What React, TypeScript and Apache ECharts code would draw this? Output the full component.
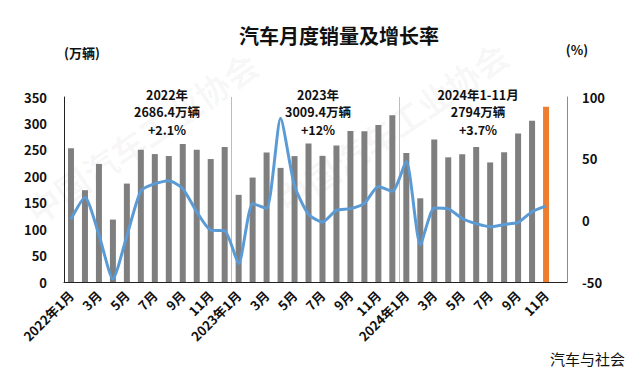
import React, { useEffect, useRef } from "react";
import * as echarts from "echarts";

const categories: string[] = [
  "2022年1月", "2月", "3月", "4月", "5月", "6月", "7月", "8月", "9月", "10月", "11月", "12月",
  "2023年1月", "2月", "3月", "4月", "5月", "6月", "7月", "8月", "9月", "10月", "11月", "12月",
  "2024年1月", "2月", "3月", "4月", "5月", "6月", "7月", "8月", "9月", "10月", "11月", "",
];

const sales: (number | null)[] = [
  253.1, 173.7, 223.4, 118.1, 186.2, 250.2, 242.0, 238.3, 261.0, 250.2, 232.6, 255.6,
  164.9, 197.6, 245.1, 215.9, 238.2, 262.2, 238.7, 258.2, 285.8, 285.3, 297.0, 315.6,
  243.9, 158.4, 269.4, 235.9, 241.7, 255.2, 226.2, 245.3, 280.9, 305.3, 331.7, null,
];

const growth: (number | null)[] = [
  0.9, 18.7, -11.7, -47.6, -12.6, 23.8, 29.7, 32.1, 25.7, 6.9, -7.9, -8.4,
  -35.0, 13.5, 9.7, 82.7, 27.9, 4.8, -1.4, 8.2, 9.5, 13.8, 27.4, 23.5,
  47.9, -19.9, 9.9, 9.3, 1.5, -2.7, -5.2, -3.4, -1.7, 7.0, 11.7, null,
];

const highlightIndex = 34;
const yearBoundaries = [12, 24];

const annotationX = [167, 318, 478];
const annotationLines: string[][] = [
  ["2022年", "2686.4万辆", "+2.1%"],
  ["2023年", "3009.4万辆", "+12%"],
  ["2024年1-11月", "2794万辆", "+3.7%"],
];

const FONT = '"Noto Sans CJK SC", "Noto Sans", sans-serif';

export default function App() {
  const ref = useRef<HTMLDivElement>(null);

  useEffect(() => {
    if (!ref.current) return;
    const chart = echarts.init(ref.current, undefined, { renderer: "svg" });

    const annotationTexts: any[] = [];
    annotationLines.forEach((lines, k) => {
      lines.forEach((t, j) => {
        annotationTexts.push({
          type: "text",
          x: annotationX[k],
          y: 94 + j * 17.5,
          z: 10,
          style: {
            text: t,
            textAlign: "center",
            textVerticalAlign: "middle",
            fontSize: 12.5,
            fontWeight: "bold",
            fill: "#111",
            fontFamily: FONT,
          },
        });
      });
    });

    chart.setOption({
      animation: false,
      backgroundColor: "#ffffff",
      textStyle: { fontFamily: FONT },
      title: {
        text: "汽车月度销量及增长率",
        left: 334,
        top: 20,
        textAlign: "center",
        textStyle: { fontSize: 20, fontWeight: "bold", color: "#111", fontFamily: FONT },
      },
      grid: { left: 64, right: 68, top: 97, bottom: 93, containLabel: false },
      xAxis: {
        type: "category",
        data: categories,
        boundaryGap: true,
        axisLine: { show: true, lineStyle: { color: "#222", width: 1 } },
        axisTick: { show: false },
        axisLabel: {
          interval: 1,
          rotate: 45,
          margin: 11,
          fontSize: 13,
          fontWeight: "bold",
          color: "#111",
          fontFamily: FONT,
        },
        splitLine: {
          show: true,
          interval: (i: number) => yearBoundaries.indexOf(i) >= 0,
          lineStyle: { color: "#9DC3E6", width: 1 },
        },
      },
      yAxis: [
        {
          type: "value",
          min: 0,
          max: 350,
          interval: 50,
          axisLine: { show: true, lineStyle: { color: "#222", width: 1 } },
          axisTick: { show: false },
          splitLine: { show: false },
          axisLabel: { fontSize: 13, fontWeight: "bold", color: "#111", margin: 17, fontFamily: FONT },
        },
        {
          type: "value",
          min: -50,
          max: 100,
          interval: 50,
          position: "right",
          axisLine: { show: true, lineStyle: { color: "#8c8c8c", width: 1 } },
          axisTick: { show: false },
          splitLine: { show: false },
          axisLabel: { fontSize: 13, fontWeight: "bold", color: "#111", margin: 15, fontFamily: FONT },
        },
      ],
      series: [
        {
          type: "bar",
          name: "销量",
          data: sales.map((v, i) =>
            i === highlightIndex
              ? { value: v, itemStyle: { color: "#ED7D31" } }
              : v
          ),
          barWidth: 6,
          itemStyle: { color: "#7F7F7F" },
          yAxisIndex: 0,
        },
        {
          type: "line",
          name: "增长率",
          data: growth,
          yAxisIndex: 1,
          smooth: 0.2,
          showSymbol: false,
          symbol: "none",
          lineStyle: { color: "#5B9BD5", width: 3 },
          z: 5,
        },
      ],
      graphic: [
        {
          type: "text",
          rotation: 0.6,
          x: 20,
          y: 200,
          silent: true,
          z: -1,
          style: {
            text: "中国汽车工业协会",
            fontSize: 34,
            fontWeight: "bold",
            fill: "rgba(0,0,0,0.035)",
            fontFamily: FONT,
          },
        },
        {
          type: "text",
          rotation: 0.6,
          x: 270,
          y: 190,
          silent: true,
          z: -1,
          style: {
            text: "中国汽车工业协会",
            fontSize: 34,
            fontWeight: "bold",
            fill: "rgba(0,0,0,0.035)",
            fontFamily: FONT,
          },
        },
        {
          type: "text",
          x: 82,
          y: 52,
          style: {
            text: "(万辆)",
            textAlign: "center",
            textVerticalAlign: "middle",
            fontSize: 13,
            fontWeight: "bold",
            fill: "#111",
            fontFamily: FONT,
          },
        },
        {
          type: "text",
          x: 577,
          y: 49,
          style: {
            text: "(%)",
            textAlign: "center",
            textVerticalAlign: "middle",
            fontSize: 13,
            fontWeight: "bold",
            fill: "#111",
            fontFamily: FONT,
          },
        },
        ...annotationTexts,
        {
          type: "text",
          x: 625,
          y: 358,
          style: {
            text: "汽车与社会",
            textAlign: "right",
            textVerticalAlign: "middle",
            fontSize: 15,
            fill: "#111",
            fontFamily: FONT,
          },
        },
      ],
    });
    return () => chart.dispose();
  }, []);

  return (
    <div
      ref={ref}
      style={{ position: "fixed", left: 0, top: 0, width: 635, height: 375 }}
    />
  );
}
